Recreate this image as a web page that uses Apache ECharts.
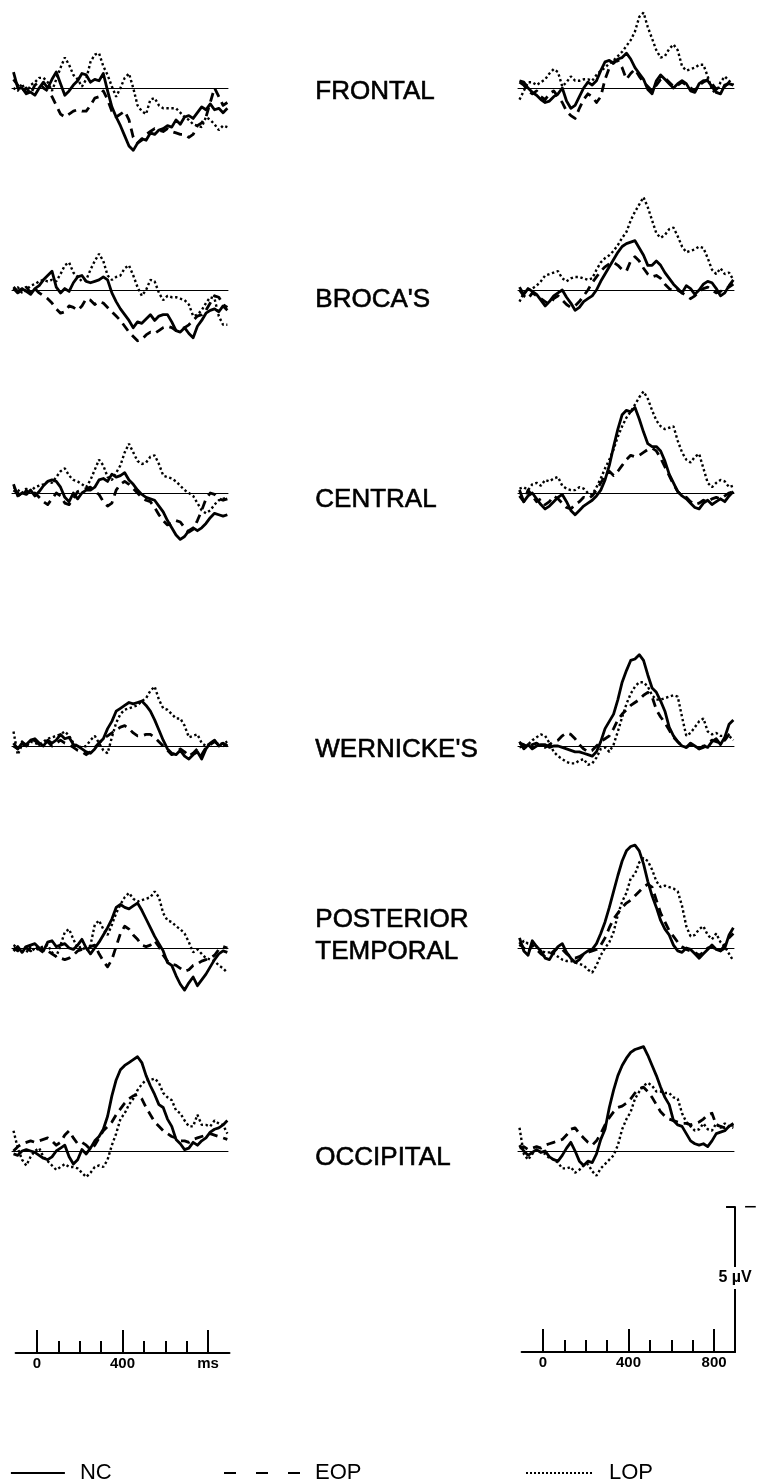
<!DOCTYPE html>
<html>
<head>
<meta charset="utf-8">
<script src="https://cdn.jsdelivr.net/npm/echarts@6/dist/echarts.min.js"></script>
<style>
  html, body { margin: 0; padding: 0; background: #fff; }
  #main { width: 758px; height: 1480px; }
</style>
</head>
<body>
<div id="main"></div>
<script>
// time points (ms) of the traces
const times = [-110,-90,-70,-50,-30,-10,10,30,50,70,90,110,130,150,170,190,210,230,250,270,290,310,330,350,370,390,410,430,450,470,490,510,530,550,570,590,610,630,650,670,690,710,730,750,770,790,810,830,850,870,890];

// amplitudes in microvolts (left = first column, right = second column)
const frontalLeftNC  = [0.55,0,0,-0.2,-0.14,-0.25,0,0.2,0,0.3,0.55,0.15,-0.25,-0.1,0.1,0.25,0.5,0.45,0.2,0.3,0.25,0.5,-0.1,-0.65,-1.0,-1.3,-1.65,-2.0,-2.15,-1.9,-1.75,-1.8,-1.55,-1.6,-1.45,-1.4,-1.3,-1.35,-1.1,-1.25,-1.0,-0.95,-1.05,-0.85,-0.65,-0.75,-0.55,-0.75,-0.7,-0.85,-0.7];
const frontalLeftEOP = [0.3,0.1,-0.1,0.0,-0.2,0.1,0.2,0.0,-0.1,-0.3,-0.6,-0.9,-1.0,-0.9,-0.8,-0.75,-0.8,-0.8,-0.6,-0.35,-0.3,-0.1,-0.4,-0.8,-1.0,-0.9,-0.8,-1.1,-1.7,-1.9,-1.8,-1.6,-1.5,-1.4,-1.45,-1.5,-1.4,-1.5,-1.55,-1.6,-1.6,-1.7,-1.6,-1.3,-1.2,-1.0,-0.5,0.0,-0.3,-0.6,-0.5];
const frontalLeftLOP = [0.0,-0.1,0.15,-0.2,0.1,0.2,0.35,0.35,0.2,-0.1,0.3,0.7,1.05,0.8,0.45,0.3,0.05,0.3,0.9,1.15,1.2,0.75,0.45,0.05,-0.3,0.0,0.35,0.5,0.0,-0.6,-0.8,-0.9,-0.4,-0.35,-0.6,-0.7,-0.7,-0.7,-0.7,-0.85,-1.0,-1.1,-1.25,-1.3,-1.35,-1.0,-1.1,-1.25,-1.45,-1.3,-1.35];
const frontalRightNC  = [0.25,0.2,0,-0.15,-0.25,-0.4,-0.5,-0.45,-0.3,-0.2,0,-0.45,-0.7,-0.6,-0.3,0,0.2,0.1,0.25,0.6,0.9,0.95,0.85,1.0,1.05,1.2,1.0,0.7,0.5,0.3,-0.05,-0.2,0.25,0.45,0.3,0.15,0,0.15,0.25,0.15,-0.1,-0.15,0.15,0.25,0.25,0.05,-0.15,-0.2,0.1,0.15,0.1];
const frontalRightEOP = [0.2,0.1,-0.1,-0.2,-0.1,-0.3,-0.4,-0.2,-0.1,-0.3,-0.5,-0.8,-0.95,-1.05,-0.7,-0.4,-0.2,-0.3,-0.5,-0.3,0.3,0.7,0.9,0.95,0.7,0.3,0.5,0.65,0.4,0.2,0.05,-0.1,0.1,0.3,0.35,0.2,0.05,0.1,0.2,0.1,0.0,-0.1,0.1,0.2,0.3,0.15,-0.05,0.1,0.05,0.2,0.15];
const frontalRightLOP = [-0.4,-0.1,0.2,0.2,0.1,0.2,0.3,0.5,0.65,0.55,0.05,0.2,0.4,0.25,0.25,0.3,0.3,0.25,0.45,0.6,0.7,0.85,0.95,1.1,1.25,1.45,1.65,1.95,2.45,2.6,2.1,1.7,1.3,1.05,1.1,1.35,1.5,1.3,0.75,0.6,0.65,0.7,0.8,0.8,0.4,-0.05,-0.2,0.2,0.4,0.25,0.1];

const brocaLeftNC  = [0.1,-0.05,0.05,-0.05,-0.15,0.05,0.15,0.35,0.5,0.65,0.1,-0.1,0.05,-0.05,0.25,0.45,0.5,0.3,0.25,0.3,0.35,0.45,0.35,-0.1,-0.4,-0.65,-0.85,-1.05,-1.3,-1.1,-1.15,-1.0,-0.85,-1.05,-0.9,-0.85,-0.85,-1.1,-1.4,-1.45,-1.3,-1.5,-1.65,-1.25,-1.05,-0.8,-0.7,-0.65,-0.75,-0.55,-0.7];
const brocaLeftEOP = [0.05,-0.1,0.0,0.1,-0.1,0.05,-0.1,-0.2,-0.3,-0.45,-0.65,-0.8,-0.75,-0.55,-0.6,-0.7,-0.55,-0.3,-0.35,-0.5,-0.4,-0.45,-0.6,-0.75,-0.9,-1.05,-1.25,-1.45,-1.6,-1.75,-1.7,-1.55,-1.45,-1.5,-1.4,-1.3,-1.25,-1.3,-1.4,-1.35,-1.3,-1.2,-1.05,-0.9,-0.85,-0.7,-0.45,-0.2,-0.25,-0.5,-0.6];
const brocaLeftLOP = [0.0,0.1,-0.1,0.0,0.15,0.2,0.3,0.35,0.3,0.35,0.3,0.55,0.85,0.95,0.6,0.45,0.3,0.35,0.7,1.0,1.25,1.0,0.5,0.35,0.45,0.5,0.75,0.85,0.5,0.1,-0.2,0.0,0.35,0.3,-0.1,-0.35,-0.2,-0.25,-0.25,-0.3,-0.35,-0.5,-0.9,-0.85,-0.7,-0.45,-0.25,-0.3,-0.9,-1.2,-1.2];
const brocaRightNC  = [0.1,-0.15,0.05,-0.05,-0.15,-0.35,-0.55,-0.4,-0.2,-0.1,0.0,-0.25,-0.45,-0.7,-0.6,-0.4,-0.3,-0.2,0.0,0.3,0.55,0.8,1.05,1.3,1.5,1.6,1.65,1.7,1.45,1.2,0.85,0.85,1.0,0.85,0.6,0.4,0.2,0.05,-0.1,0.15,0.05,-0.15,0.0,0.2,0.3,0.25,0.05,-0.2,-0.1,0.15,0.35];
const brocaRightEOP = [0.0,-0.2,-0.3,-0.1,-0.2,-0.3,-0.4,-0.5,-0.3,-0.2,-0.35,-0.5,-0.6,-0.55,-0.4,-0.2,0.0,0.25,0.45,0.65,0.8,0.9,0.95,0.85,0.7,0.65,1.0,1.15,1.0,0.75,0.55,0.45,0.5,0.4,0.2,0.05,-0.05,0.0,-0.1,-0.2,-0.3,-0.2,-0.05,0.05,0.1,0.0,-0.1,-0.05,0.05,0.1,0.2];
const brocaRightLOP = [-0.4,-0.1,0.0,0.05,0.15,0.3,0.5,0.55,0.6,0.65,0.4,0.3,0.4,0.45,0.45,0.4,0.35,0.4,0.7,0.95,1.1,1.2,1.35,1.55,1.8,2.0,2.4,2.7,2.95,3.2,2.85,2.4,1.95,1.8,1.9,2.1,2.15,1.85,1.5,1.3,1.35,1.4,1.5,1.45,1.1,0.7,0.55,0.75,0.55,0.6,0.35];

const centralLeftNC  = [0.3,-0.1,0.0,-0.05,0.1,-0.1,0.05,0.25,0.4,0.45,0.4,0.2,-0.15,-0.3,0.0,-0.2,0.0,0.1,0.1,0.2,0.45,0.5,0.4,0.65,0.55,0.6,0.7,0.45,0.3,0.1,-0.05,-0.15,-0.2,-0.25,-0.45,-0.65,-0.95,-1.2,-1.45,-1.6,-1.5,-1.3,-1.2,-1.3,-1.2,-1.05,-0.85,-0.7,-0.75,-0.8,-0.75];
const centralLeftEOP = [0.1,0.0,-0.15,0.1,-0.1,0.0,-0.15,-0.3,-0.4,-0.2,0.0,-0.1,-0.35,-0.4,-0.2,0.05,0.1,0.15,0.2,0.05,-0.05,-0.3,-0.45,-0.35,0.1,0.3,0.4,0.3,0.15,0.0,-0.15,-0.25,-0.3,-0.5,-0.75,-0.95,-1.1,-1.05,-0.95,-1.0,-1.2,-1.35,-1.25,-0.95,-0.6,-0.2,0.0,-0.05,-0.2,-0.25,-0.2];
const centralLeftLOP = [0.2,0.1,0.0,0.15,0.05,0.2,0.25,0.3,0.4,0.35,0.55,0.75,0.85,0.6,0.45,0.4,0.3,0.2,0.45,0.8,1.15,0.95,0.55,0.45,0.7,0.95,1.4,1.7,1.4,1.1,1.0,1.05,1.25,1.3,1.0,0.6,0.55,0.5,0.4,0.25,0.1,0.0,-0.1,-0.35,-0.6,-0.7,-0.6,-0.4,-0.25,-0.2,-0.15];
const centralRightNC  = [0.1,-0.3,-0.1,0.0,-0.2,-0.4,-0.55,-0.45,-0.3,-0.15,-0.05,-0.3,-0.6,-0.75,-0.6,-0.45,-0.35,-0.25,-0.1,0.1,0.45,0.95,1.6,2.2,2.7,2.85,2.8,2.95,2.55,2.1,1.7,1.6,1.6,1.45,1.1,0.65,0.35,0.05,-0.1,-0.2,-0.35,-0.5,-0.55,-0.35,-0.25,-0.4,-0.3,-0.2,-0.3,-0.1,0.05];
const centralRightEOP = [-0.1,-0.3,0.1,-0.1,-0.3,-0.2,-0.4,-0.3,-0.1,-0.2,-0.35,-0.5,-0.55,-0.4,-0.3,-0.15,-0.2,-0.1,0.1,0.35,0.6,0.75,0.6,0.75,0.95,1.15,1.3,1.25,1.3,1.4,1.5,1.55,1.45,1.2,0.9,0.6,0.3,0.05,-0.1,-0.15,-0.3,-0.4,-0.35,-0.25,-0.3,-0.2,-0.15,-0.2,-0.1,0.0,0.05];
const centralRightLOP = [0.15,0.2,0.1,0.3,0.35,0.25,0.45,0.4,0.5,0.55,0.25,0.15,0.1,0.1,0.2,0.15,0.0,-0.05,0.2,0.5,0.85,1.15,1.5,1.95,2.3,2.6,2.8,3.05,3.3,3.5,3.25,2.85,2.5,2.3,2.2,2.25,2.3,1.8,1.4,1.15,1.05,1.25,1.35,0.85,0.35,0.2,0.35,0.45,0.4,0.2,0.25];

const wernickeLeftNC  = [0.0,-0.1,0.1,0.05,0.2,0.25,0.1,0.0,0.2,0.1,0.2,0.4,0.25,0.3,0.05,0.0,-0.1,-0.2,-0.25,-0.1,0.1,0.25,0.6,0.85,1.2,1.3,1.4,1.5,1.45,1.5,1.55,1.4,1.2,0.9,0.55,0.2,-0.1,-0.25,-0.3,-0.15,-0.35,-0.45,-0.3,-0.2,-0.45,-0.1,0.1,0.2,0.0,0.1,0.0];
const wernickeLeftEOP = [0.1,-0.1,0.15,0.0,0.1,0.2,0.05,0.1,0.15,0.0,0.1,0.2,0.1,0.05,-0.05,-0.15,-0.2,-0.3,-0.2,-0.05,0.1,0.25,0.35,0.45,0.55,0.65,0.7,0.6,0.45,0.35,0.35,0.4,0.4,0.3,0.15,0.0,-0.15,-0.3,-0.25,-0.1,-0.2,-0.35,-0.25,-0.1,-0.3,-0.05,0.05,0.15,0.05,0.0,0.05];
const wernickeLeftLOP = [0.5,-0.3,0.05,0.0,0.15,0.1,0.05,0.15,0.25,0.3,0.35,0.4,0.5,0.35,0.1,0.0,-0.05,0.0,0.2,0.35,0.1,-0.15,-0.25,0.3,0.8,1.1,1.25,1.3,1.35,1.4,1.55,1.65,1.9,2.05,1.6,1.3,1.25,1.1,0.95,0.95,0.7,0.3,0.35,0.4,0.1,0.0,0.1,0.15,0.05,0.1,0.15];
const wernickeRightNC  = [0.15,-0.1,0.05,-0.1,0.0,0.05,0.05,-0.05,0.0,0.0,-0.05,-0.1,-0.15,-0.2,-0.2,-0.25,-0.3,-0.35,-0.2,0.15,0.6,0.85,1.1,1.6,2.2,2.6,2.95,3.0,3.15,2.95,2.45,2.0,1.85,1.55,1.2,0.65,0.35,0.15,0.0,-0.05,0.1,0.0,-0.1,0.0,-0.05,0.15,0.25,0.05,0.3,0.75,0.9];
const wernickeRightEOP = [0.1,0.05,-0.1,0.05,0.1,0.0,-0.05,0.05,0.15,0.2,0.35,0.45,0.4,0.25,0.05,-0.1,-0.2,-0.15,0.0,0.15,0.25,0.35,0.6,0.9,1.1,1.25,1.4,1.5,1.6,1.75,1.85,1.7,1.25,1.0,0.8,0.55,0.3,0.15,0.0,-0.05,0.05,0.0,-0.1,-0.05,0.1,0.2,0.15,0.1,0.2,0.4,0.5];
const wernickeRightLOP = [-0.05,0.0,0.05,0.2,0.3,0.4,0.35,0.1,-0.2,-0.35,-0.45,-0.55,-0.6,-0.6,-0.5,-0.45,-0.65,-0.6,-0.4,-0.1,-0.05,-0.2,0.05,0.5,1.0,1.45,1.8,2.05,2.2,2.2,2.05,1.75,1.6,1.6,1.65,1.7,1.75,1.7,1.0,0.35,0.45,0.65,0.85,0.95,0.5,0.4,0.45,0.35,0.35,0.35,0.2];

const postTempLeftNC  = [-0.1,0.05,-0.15,0.05,0.1,0.15,0.0,-0.1,0.2,0.25,0.05,0.1,0.15,0.0,-0.05,0.1,0.3,0.0,-0.2,0.0,0.2,0.45,0.7,1.0,1.4,1.5,1.4,1.35,1.45,1.55,1.3,1.0,0.7,0.4,0.15,-0.1,-0.5,-0.6,-0.95,-1.25,-1.45,-1.2,-1.0,-1.3,-1.1,-0.9,-0.65,-0.4,-0.2,-0.1,-0.15];
const postTempLeftEOP = [0.0,-0.1,0.1,0.0,-0.1,0.05,-0.05,-0.15,-0.1,-0.2,-0.3,-0.35,-0.4,-0.35,-0.25,-0.1,-0.05,-0.1,0.05,0.1,-0.2,-0.45,-0.65,-0.4,0.05,0.5,0.75,0.65,0.45,0.3,0.1,0.05,0.1,0.25,0.05,-0.25,-0.45,-0.55,-0.6,-0.7,-0.8,-0.75,-0.6,-0.55,-0.45,-0.4,-0.35,-0.25,-0.05,0.05,0.0];
const postTempLeftLOP = [0.1,0.0,-0.1,-0.15,0.05,-0.1,0.0,0.05,0.1,-0.15,-0.3,0.1,0.55,0.65,0.3,0.0,0.05,-0.1,0.1,0.8,0.95,0.65,0.45,0.8,1.2,1.5,1.75,1.9,1.7,1.6,1.65,1.7,1.75,1.95,1.75,1.2,0.95,0.9,0.75,0.65,0.5,0.2,-0.15,-0.05,-0.2,-0.35,-0.4,-0.45,-0.6,-0.7,-0.85];
const postTempRightNC  = [0.35,-0.1,-0.25,0.25,0.05,-0.1,-0.35,-0.4,-0.15,0.05,0.15,-0.15,-0.35,-0.5,-0.4,-0.2,-0.1,-0.05,0.15,0.5,0.9,1.4,1.95,2.5,3.0,3.35,3.5,3.55,3.35,2.9,2.3,1.8,1.4,0.95,0.65,0.45,0.1,-0.1,-0.15,0.0,-0.05,-0.2,-0.35,-0.2,-0.05,0.1,-0.05,-0.1,0.0,0.45,0.7];
const postTempRightEOP = [0.2,0.0,-0.15,0.1,-0.05,-0.2,-0.3,-0.25,-0.1,0.0,-0.05,-0.2,-0.3,-0.35,-0.3,-0.2,-0.15,-0.1,-0.05,0.1,0.35,0.7,1.0,1.2,1.4,1.55,1.65,1.8,1.95,2.1,2.2,2.1,1.65,1.2,0.9,0.6,0.4,0.2,0.05,-0.05,-0.1,-0.15,-0.25,-0.15,0.0,0.05,-0.05,-0.1,0.1,0.35,0.5];
const postTempRightLOP = [0.05,0.25,0.15,0.15,0.05,-0.1,-0.15,-0.15,-0.2,-0.3,-0.4,-0.45,-0.45,-0.5,-0.55,-0.6,-0.75,-0.85,-0.6,-0.25,0.0,0.2,0.55,1.15,1.6,1.9,2.4,2.55,2.95,3.1,3.0,2.7,2.3,2.1,2.15,2.1,2.05,1.95,1.45,0.75,0.4,0.45,0.65,0.75,0.45,0.3,0.5,0.2,0.05,-0.2,-0.45];

const occipitalLeftNC  = [-0.1,-0.15,0.0,0.05,0.0,-0.05,-0.15,-0.25,-0.3,-0.2,0.0,0.1,0.2,-0.2,-0.45,-0.3,0.05,-0.1,0.1,0.35,0.5,0.75,1.2,1.9,2.45,2.8,2.95,3.05,3.15,3.25,3.05,2.6,2.25,1.95,1.6,1.5,1.1,0.85,0.4,0.25,0.05,0.1,0.3,0.2,0.35,0.45,0.65,0.75,0.8,0.9,1.05];
const occipitalLeftEOP = [0.0,0.15,0.25,0.3,0.35,0.3,0.35,0.4,0.45,0.35,0.2,0.3,0.55,0.7,0.45,0.25,0.3,0.2,0.05,0.2,0.45,0.7,0.85,1.0,1.25,1.45,1.65,1.8,1.9,1.95,1.8,1.5,1.25,1.0,0.85,0.7,0.6,0.5,0.45,0.35,0.35,0.3,0.4,0.45,0.5,0.55,0.6,0.55,0.5,0.45,0.4];
const occipitalLeftLOP = [0.7,0.1,-0.3,-0.5,-0.2,0.0,0.1,-0.2,-0.35,-0.5,-0.65,-0.55,-0.45,-0.55,-0.55,-0.6,-0.75,-0.9,-0.75,-0.55,-0.5,-0.55,-0.3,0.2,0.6,1.1,1.3,1.6,1.8,2.1,2.3,2.45,2.45,2.5,2.35,2.0,1.85,1.75,1.4,1.3,1.05,0.85,0.85,1.25,0.9,0.9,0.85,1.05,0.95,0.9,0.6];
const occipitalRightNC  = [0.2,0.0,-0.15,-0.05,0.05,-0.05,0.0,-0.2,-0.3,-0.35,-0.15,0.1,0.3,0.0,-0.35,-0.5,-0.35,-0.4,-0.1,0.4,0.75,1.5,2.1,2.6,2.95,3.2,3.4,3.5,3.55,3.6,3.3,2.95,2.6,2.2,1.85,1.6,1.05,0.9,0.85,0.6,0.35,0.25,0.2,0.25,0.15,0.35,0.6,0.65,0.7,0.85,0.95];
const occipitalRightEOP = [0.1,0.15,0.05,0.1,0.15,0.1,0.2,0.25,0.3,0.35,0.4,0.55,0.75,0.8,0.6,0.45,0.3,0.2,0.35,0.6,0.9,1.15,1.35,1.5,1.55,1.65,1.8,2.0,2.15,2.2,2.05,1.85,1.6,1.35,1.2,1.1,1.05,1.0,0.95,0.95,0.9,0.95,1.0,1.1,1.25,1.3,0.9,0.85,0.8,0.85,0.9];
const occipitalRightLOP = [0.8,-0.1,-0.3,-0.1,0.05,-0.05,-0.1,-0.25,-0.3,-0.4,-0.6,-0.6,-0.55,-0.75,-0.65,-0.5,-0.45,-0.7,-0.85,-0.6,-0.45,-0.3,-0.15,0.2,0.75,1.1,1.35,1.8,2.05,2.25,2.35,2.25,2.05,2.05,2.0,2.0,1.85,1.8,1.3,1.0,0.85,0.7,0.75,0.95,0.75,0.7,0.95,0.8,0.95,0.85,0.8];

const regionLabels = ['FRONTAL', "BROCA'S", 'CENTRAL', "WERNICKE'S", 'POSTERIOR\nTEMPORAL', 'OCCIPITAL'];
const majorTicks = [0, 400, 800];
const minorTicks = [100, 200, 300, 500, 600, 700];
const calibrationUV = 5;

// layout
const pxPerUV = 29;
const pxPerMs = 216 / 1010;
const rowBase = [88, 290, 493, 746, 948, 1151];
const rowLabelY = [92, 300, 500, 750, 936, 1158];
const rowMax = [3, 4, 4, 4, 4, 4];
const rowMin = -2.5;
const colLeft = [12, 518];
const zeroX = [37, 543];

const panels = [
    [frontalLeftNC, frontalLeftEOP, frontalLeftLOP], [frontalRightNC, frontalRightEOP, frontalRightLOP],
    [brocaLeftNC, brocaLeftEOP, brocaLeftLOP], [brocaRightNC, brocaRightEOP, brocaRightLOP],
    [centralLeftNC, centralLeftEOP, centralLeftLOP], [centralRightNC, centralRightEOP, centralRightLOP],
    [wernickeLeftNC, wernickeLeftEOP, wernickeLeftLOP], [wernickeRightNC, wernickeRightEOP, wernickeRightLOP],
    [postTempLeftNC, postTempLeftEOP, postTempLeftLOP], [postTempRightNC, postTempRightEOP, postTempRightLOP],
    [occipitalLeftNC, occipitalLeftEOP, occipitalLeftLOP], [occipitalRightNC, occipitalRightEOP, occipitalRightLOP]
];
const groupNames = ['NC', 'EOP', 'LOP'];
const groupLine = [
    {color: '#000', width: 2.8, type: 'solid', join: 'round'},
    {color: '#000', width: 2.8, type: [9, 6], join: 'round'},
    {color: '#000', width: 2.4, type: [2.4, 2.6]}
];

let grid = [], xAxis = [], yAxis = [], series = [];

panels.forEach(function (p, i) {
    let row = Math.floor(i / 2), col = i % 2;
    grid.push({
        left: colLeft[col],
        top: rowBase[row] - rowMax[row] * pxPerUV,
        width: 216,
        height: (rowMax[row] - rowMin) * pxPerUV
    });
    xAxis.push({
        gridIndex: i, type: 'value', min: -117, max: 893,
        axisLine: {onZero: true, lineStyle: {color: '#000', width: 1}},
        axisTick: {show: false}, axisLabel: {show: false}, splitLine: {show: false}
    });
    yAxis.push({gridIndex: i, type: 'value', min: rowMin, max: rowMax[row], show: false});
    p.forEach(function (vals, k) {
        series.push({
            name: groupNames[k], type: 'line', xAxisIndex: i, yAxisIndex: i,
            data: times.map((t, j) => [t, vals[j]]),
            symbol: 'none', smooth: false, silent: true, color: '#000',
            lineStyle: groupLine[k]
        });
    });
});

// time scale bars at the bottom
function addScale(col, top, height, maxMs, labelFmt) {
    let g = grid.length;
    grid.push({left: zeroX[col] - 100 * pxPerMs, top: top, width: (maxMs + 100) * pxPerMs, height: height});
    xAxis.push({
        gridIndex: g, type: 'value', min: -100, max: maxMs, position: 'bottom',
        axisLine: {onZero: false, lineStyle: {color: '#000', width: 2}},
        axisTick: {customValues: majorTicks, inside: true, length: 23, lineStyle: {color: '#000', width: 2}},
        axisLabel: {customValues: majorTicks, formatter: labelFmt, color: '#000', fontSize: 15,
            fontWeight: 'bold', fontFamily: 'Liberation Sans', margin: 3},
        splitLine: {show: false}
    });
    xAxis.push({
        gridIndex: g, type: 'value', min: -100, max: maxMs, position: 'bottom',
        axisLine: {show: false},
        axisTick: {customValues: minorTicks, inside: true, length: 12, lineStyle: {color: '#000', width: 2}},
        axisLabel: {show: false}, splitLine: {show: false}
    });
    return g;
}
let gl = addScale(0, 1300, 53, 900, v => v === 800 ? 'ms' : String(v));
yAxis.push({gridIndex: gl, type: 'value', min: 0, max: 1, show: false});
let gr = addScale(1, 1207, 145, 898, v => String(v));
yAxis.push({
    gridIndex: gr, type: 'value', min: 0, max: calibrationUV, position: 'right',
    axisLine: {show: true, onZero: false, lineStyle: {color: '#000', width: 2}},
    axisTick: {show: true, customValues: [calibrationUV], inside: true, length: 9, lineStyle: {color: '#000', width: 2}},
    axisLabel: {show: false}, splitLine: {show: false}
});

let graphic = regionLabels.map(function (txt, r) {
    let lines = txt.split('\n').length;
    return {
        type: 'text', left: 315, top: rowLabelY[r] - lines * 16, z: 50,
        style: {text: txt, fill: '#000', fontSize: 26, fontFamily: 'Liberation Sans',
            lineHeight: 32, stroke: '#000', lineWidth: 0.6}
    };
});
graphic.push({
    type: 'text', z: 100, x: 735, y: 1278,
    style: {text: calibrationUV + ' \u00b5V', fill: '#000', fontSize: 16, fontWeight: 'bold',
        fontFamily: 'Liberation Sans', align: 'center', verticalAlign: 'middle',
        backgroundColor: '#fff', padding: [3, 1]}
});
graphic.push({
    type: 'text', z: 100, x: 744, y: 1208,
    style: {text: '\u2212', fill: '#000', fontSize: 22, fontFamily: 'Liberation Sans',
        align: 'left', verticalAlign: 'middle'}
});

const legendText = {color: '#000', fontSize: 22, fontFamily: 'Liberation Sans', padding: [0, 0, 0, 10]};
const legendCommon = {top: 1457, itemHeight: 14, selectedMode: false, textStyle: legendText,
    itemStyle: {opacity: 0}};
let legend = [
    Object.assign({data: ['NC'], left: 5, itemWidth: 54, lineStyle: {width: 1.8}}, legendCommon),
    Object.assign({data: ['EOP'], left: 218, itemWidth: 76, lineStyle: {width: 2, type: [12, 20]}}, legendCommon),
    Object.assign({data: ['LOP'], left: 520, itemWidth: 68, lineStyle: {width: 2, type: [2, 2]}}, legendCommon)
];

let myChart = echarts.init(document.getElementById('main'), null, {renderer: 'canvas'});
myChart.setOption({
    animation: false,
    backgroundColor: '#fff',
    grid: grid,
    xAxis: xAxis,
    yAxis: yAxis,
    legend: legend,
    graphic: graphic,
    series: series
});
</script>
</body>
</html>
